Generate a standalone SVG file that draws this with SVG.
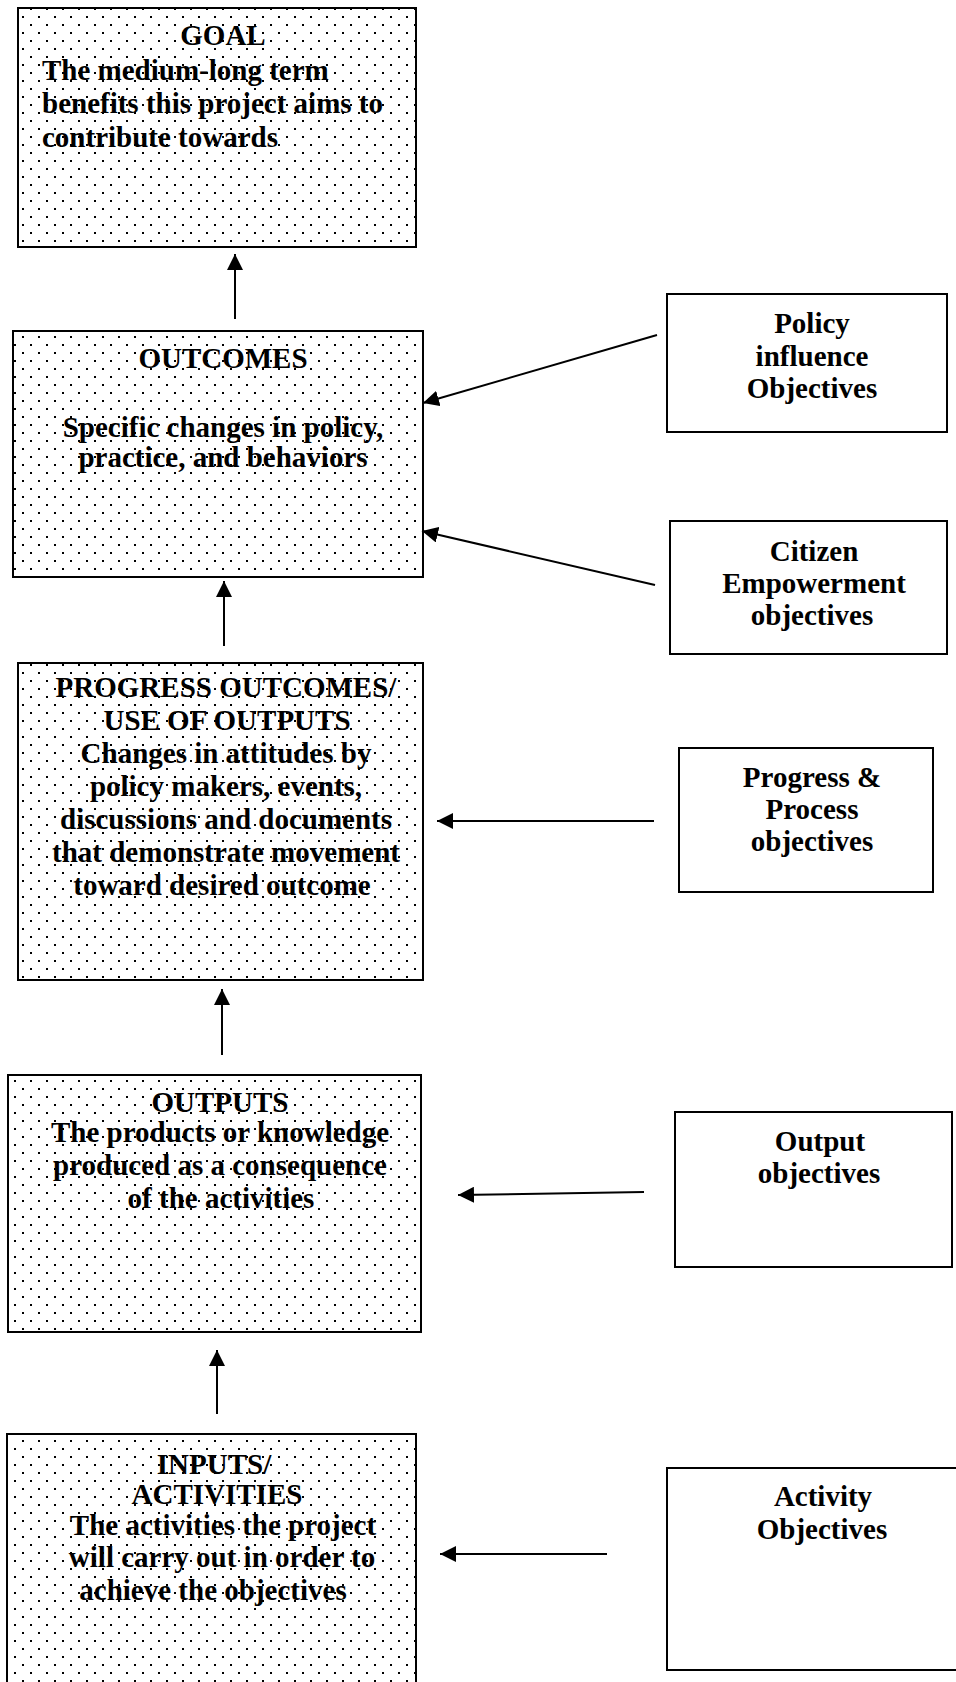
<svg xmlns="http://www.w3.org/2000/svg" width="956" height="1682" viewBox="0 0 956 1682">
<defs>
<pattern id="dots" patternUnits="userSpaceOnUse" width="16" height="16">
<rect x="6" y="0" width="2" height="2" fill="#000"/>
<rect x="14" y="8" width="2" height="2" fill="#000"/>
</pattern>
<marker id="arr" markerUnits="userSpaceOnUse" markerWidth="16" markerHeight="16" refX="16" refY="8" orient="auto">
<path d="M0,0 L16,8 L0,16 Z" fill="#000"/>
</marker>
<style>
.bg{fill:#fff;stroke:none}
.dot{fill:url(#dots);stroke:#000;stroke-width:2}
.plain{fill:#fff;stroke:#000;stroke-width:2}
text{font-family:"Liberation Serif",serif;font-weight:bold;font-size:29px;fill:#000}
.c{text-anchor:middle}
.conn{stroke:#000;stroke-width:2;fill:none;marker-end:url(#arr)}
</style>
</defs>
<rect width="956" height="1682" fill="#fff"/>

<g id="goal">
<rect class="bg" x="18" y="8" width="398" height="239"/>
<rect class="dot" x="18" y="8" width="398" height="239"/>
<text class="c" x="223" y="45">GOAL</text>
<text x="42" y="80">The medium-long term</text>
<text x="42" y="113">benefits this project aims to</text>
<text x="42" y="147">contribute towards</text>
</g>

<g id="outcomes">
<rect class="bg" x="13" y="331" width="410" height="246"/>
<rect class="dot" x="13" y="331" width="410" height="246"/>
<text class="c" x="223" y="368">OUTCOMES</text>
<text class="c" x="223" y="437">Specific changes in policy,</text>
<text class="c" x="223" y="467">practice, and behaviors</text>
</g>

<g id="progress">
<rect class="bg" x="18" y="663" width="405" height="317"/>
<rect class="dot" x="18" y="663" width="405" height="317"/>
<text class="c" x="226" y="697">PROGRESS OUTCOMES/</text>
<text class="c" x="227" y="730">USE OF OUTPUTS</text>
<text class="c" x="226" y="763">Changes in attitudes by</text>
<text class="c" x="226" y="796">policy makers, events,</text>
<text class="c" x="226" y="829">discussions and documents</text>
<text class="c" x="226" y="862">that demonstrate movement</text>
<text class="c" x="222" y="895">toward desired outcome</text>
</g>

<g id="outputs">
<rect class="bg" x="8" y="1075" width="413" height="257"/>
<rect class="dot" x="8" y="1075" width="413" height="257"/>
<text class="c" x="220" y="1112">OUTPUTS</text>
<text class="c" x="220" y="1142">The products or knowledge</text>
<text class="c" x="220" y="1175">produced as a consequence</text>
<text class="c" x="221" y="1208">of the activities</text>
</g>

<g id="inputs">
<rect class="bg" x="7" y="1434" width="409" height="260"/>
<rect class="dot" x="7" y="1434" width="409" height="260"/>
<text class="c" x="214" y="1474">INPUTS/</text>
<text class="c" x="217" y="1504">ACTIVITIES</text>
<text class="c" x="223" y="1535">The activities the project</text>
<text class="c" x="222" y="1567">will carry out in order to</text>
<text class="c" x="213" y="1600">achieve the objectives</text>
</g>

<g id="policy">
<rect class="plain" x="667" y="294" width="280" height="138"/>
<text class="c" x="812" y="333">Policy</text>
<text class="c" x="812" y="366">influence</text>
<text class="c" x="812" y="398">Objectives</text>
</g>

<g id="citizen">
<rect class="plain" x="670" y="521" width="277" height="133"/>
<text class="c" x="814" y="561">Citizen</text>
<text class="c" x="814" y="593">Empowerment</text>
<text class="c" x="812" y="625">objectives</text>
</g>

<g id="progress-obj">
<rect class="plain" x="679" y="748" width="254" height="144"/>
<text class="c" x="812" y="787">Progress &amp;</text>
<text class="c" x="812" y="819">Process</text>
<text class="c" x="812" y="851">objectives</text>
</g>

<g id="output-obj">
<rect class="plain" x="675" y="1112" width="277" height="155"/>
<text class="c" x="820" y="1151">Output</text>
<text class="c" x="819" y="1183">objectives</text>
</g>

<g id="activity-obj">
<rect class="plain" x="667" y="1468" width="295" height="202"/>
<text class="c" x="823" y="1506">Activity</text>
<text class="c" x="822" y="1539">Objectives</text>
</g>

<g id="connectors">
<line class="conn" x1="235" y1="319" x2="235" y2="254"/>
<line class="conn" x1="224" y1="646" x2="224" y2="581"/>
<line class="conn" x1="222" y1="1055" x2="222" y2="989"/>
<line class="conn" x1="217" y1="1414" x2="217" y2="1350"/>
<line class="conn" x1="657" y1="335" x2="423" y2="403"/>
<line class="conn" x1="655" y1="585" x2="422" y2="531"/>
<line class="conn" x1="654" y1="821" x2="437" y2="821"/>
<line class="conn" x1="644" y1="1192" x2="458" y2="1195"/>
<line class="conn" x1="607" y1="1554" x2="440" y2="1554"/>
</g>
</svg>
